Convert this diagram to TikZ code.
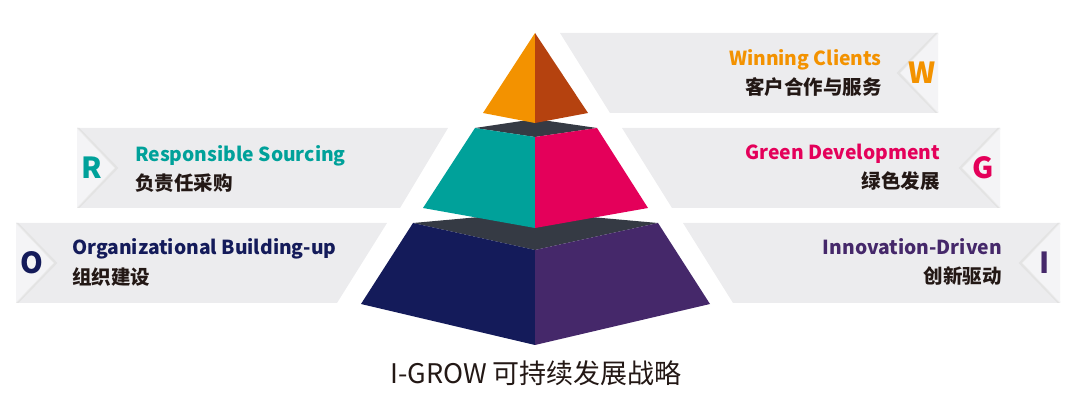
\documentclass[tikz,border=0pt]{standalone}
\usepackage{fontspec}
\setmainfont{Noto Sans CJK SC}
\definecolor{orL}{HTML}{F39200}
\definecolor{orR}{HTML}{B5420F}
\definecolor{tealc}{HTML}{00A19A}
\definecolor{pinkc}{HTML}{E4005A}
\definecolor{navyc}{HTML}{141B5A}
\definecolor{purc}{HTML}{45286A}
\definecolor{topface}{HTML}{353A44}
\definecolor{bang}{HTML}{ECECEE}
\definecolor{notchc}{HTML}{F4F4F6}
\definecolor{txt}{HTML}{231815}
\tikzset{
  banner/.style={fill=bang},
  en/.style={font=\bfseries\fontsize{19.3}{20}\selectfont, inner sep=0pt},
  zh/.style={font=\bfseries\fontsize{19.5}{20}\selectfont, text=txt, inner sep=0pt},
  letter/.style={font=\bfseries\fontsize{29}{29}\selectfont, inner sep=0pt},
  nshadow/.style={draw=black!11, line width=3.5pt},
  nfill/.style={fill=notchc},
  nedge/.style={draw=black!8, line width=0.6pt},
}
\begin{document}
\begin{tikzpicture}[x=1pt,y=-1pt]
\useasboundingbox (0,0) rectangle (1080,406);
% ---------- banners ----------
% W banner
\fill[banner] (560,33) -- (938,33) -- (938,113) -- (610,113) -- cycle;
\begin{scope}
\clip (560,33) -- (938,33) -- (938,113) -- (610,113) -- cycle;
\draw[nshadow] (939,32) -- (899,73) -- (939,114);
\fill[nfill] (938,33) -- (900,73) -- (938,113) -- cycle;
\draw[nedge] (938,33) -- (900,73) -- (938,113);
\end{scope}
% R banner
\fill[banner] (77,128) -- (448,128) -- (400,208) -- (77,208) -- cycle;
\begin{scope}
\clip (77,128) -- (448,128) -- (400,208) -- (77,208) -- cycle;
\draw[nshadow] (76,127) -- (116,168) -- (76,209);
\fill[nfill] (77,128) -- (115,168) -- (77,208) -- cycle;
\draw[nedge] (77,128) -- (115,168) -- (77,208);
\end{scope}
% G banner
\fill[banner] (622,128) -- (1000,128) -- (1000,208) -- (672,208) -- cycle;
\begin{scope}
\clip (622,128) -- (1000,128) -- (1000,208) -- (672,208) -- cycle;
\draw[nshadow] (1001,127) -- (961,168) -- (1001,209);
\fill[nfill] (1000,128) -- (962,168) -- (1000,208) -- cycle;
\draw[nedge] (1000,128) -- (962,168) -- (1000,208);
\end{scope}
% O banner
\fill[banner] (16,223) -- (387,223) -- (337,303) -- (16,303) -- cycle;
\begin{scope}
\clip (16,223) -- (387,223) -- (337,303) -- (16,303) -- cycle;
\draw[nshadow] (15,222) -- (55,263) -- (15,304);
\fill[nfill] (16,223) -- (54,263) -- (16,303) -- cycle;
\draw[nedge] (16,223) -- (54,263) -- (16,303);
\end{scope}
% I banner
\fill[banner] (683,223) -- (1060,223) -- (1060,303) -- (733,303) -- cycle;
\begin{scope}
\clip (683,223) -- (1060,223) -- (1060,303) -- (733,303) -- cycle;
\draw[nshadow] (1061,222) -- (1021,263) -- (1061,304);
\fill[nfill] (1060,223) -- (1022,263) -- (1060,303) -- cycle;
\draw[nedge] (1060,223) -- (1022,263) -- (1060,303);
\end{scope}
% ---------- pyramid ----------
% bottom tier
\fill[topface] (413,223) -- (535,212) -- (658,223) -- (535,250) -- cycle;
\fill[navyc] (413,223) -- (535,250) -- (535,345) -- (361,304) -- cycle;
\fill[purc] (535,250) -- (658,223) -- (710,304) -- (535,345) -- cycle;
% middle tier
\fill[topface] (475,128) -- (535,119) -- (597,128) -- (535,137) -- cycle;
\fill[tealc] (475,128) -- (535,137) -- (535,228) -- (423,208) -- cycle;
\fill[pinkc] (535,137) -- (597,128) -- (648,208) -- (535,228) -- cycle;
% top tier
\fill[orL] (535,33) -- (483,113) -- (535,123) -- cycle;
\fill[orR] (535,33) -- (535,123) -- (588,113) -- cycle;
% ---------- texts ----------
\node[en, text=orL, anchor=base east] (wen) at (882,66) {Winning Clients};
\node[zh, anchor=base east] (wzh) at (882,95) {客户合作与服务};
\node[letter, text=orL] (wl) at (922,73) {W};

\node[en, text=tealc, anchor=base west] (ren) at (135,162) {Responsible Sourcing};
\node[zh, anchor=base west] (rzh) at (135,191) {负责任采购};
\node[letter, text=tealc] (rl) at (92,168) {R};

\node[en, text=pinkc, anchor=base east] (gen) at (940,160) {Green Development};
\node[zh, anchor=base east] (gzh) at (940,189) {绿色发展};
\node[letter, text=pinkc] (gl) at (983,168) {G};

\node[en, text=navyc, anchor=base west] (oen) at (72,255) {Organizational Building-up};
\node[zh, anchor=base west] (ozh) at (72,285) {组织建设};
\node[letter, text=navyc] (ol) at (32,263) {O};

\node[en, text=purc, anchor=base east] (ien) at (1002,255) {Innovation-Driven};
\node[zh, anchor=base east] (izh) at (1002,284) {创新驱动};
\node[letter, text=purc] (il) at (1045,263) {I};

\node[font=\fontsize{27}{27}\selectfont, text=txt, anchor=base, inner sep=0pt] (title) at (536,383) {I-GROW 可持续发展战略};
\end{tikzpicture}
\end{document}
